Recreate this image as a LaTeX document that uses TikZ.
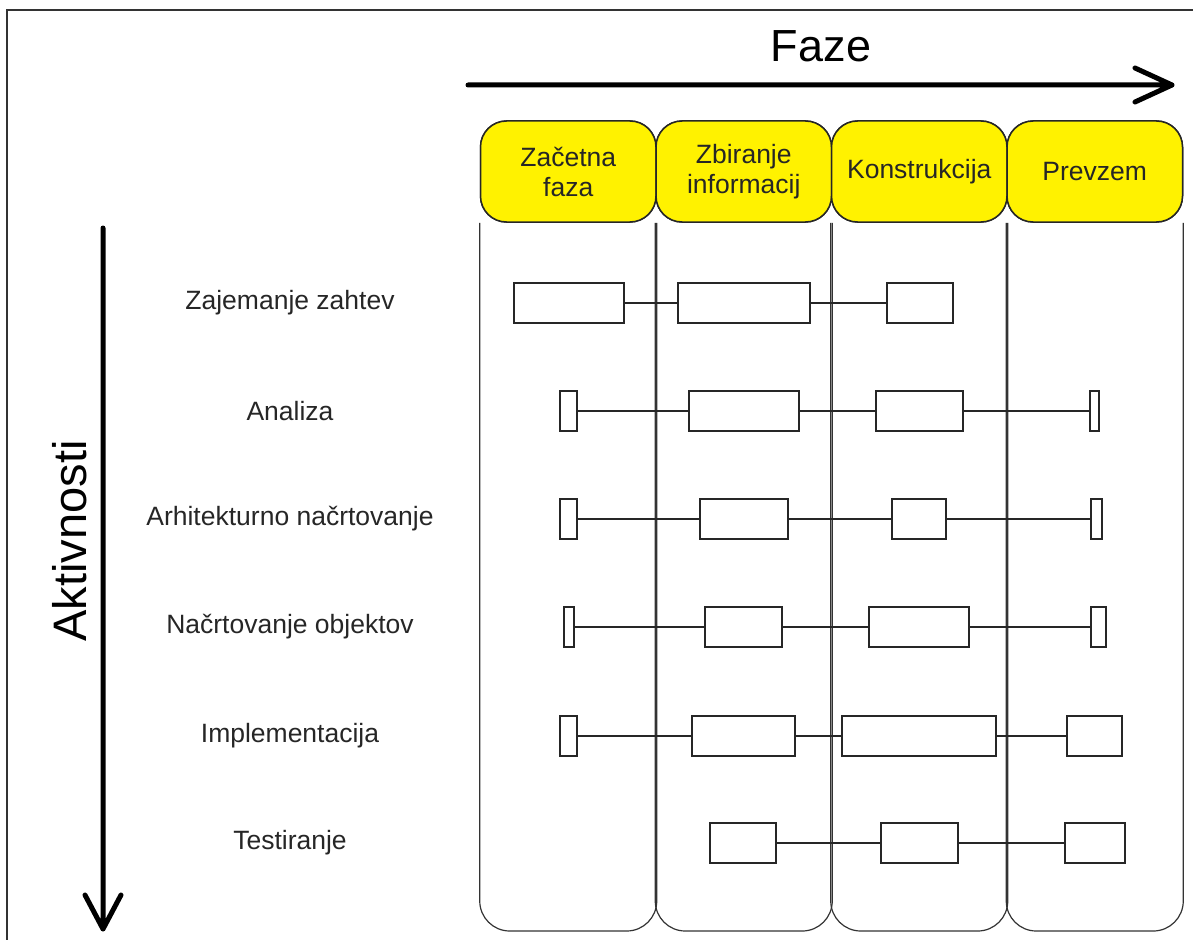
\documentclass[tikz,border=0pt]{standalone}
\usepackage{fontspec}
\setmainfont{Liberation Sans}
\usetikzlibrary{arrows.meta}
% activity box from x=#2 to x=#3, centred on y=#4
\newcommand\actbox[4]{\node[bar, minimum width={#3pt-#2pt}] (#1) at ({(#2+#3)/2},#4) {};}
\begin{document}
\begin{tikzpicture}[x=1pt,y=-1pt,
  lbl/.style={font=\fontsize{26.5}{30}\selectfont, text=black!85},
  phase/.style={draw=black!85, line width=1.5pt, fill=yellow, rounded corners=26pt,
    minimum width=175.5pt, minimum height=101pt, align=center, inner sep=0pt, lbl},
  colline/.style={draw=black!80, line width=1.2pt, rounded corners=30pt},
  bar/.style={draw=black!85, line width=1.8pt, fill=white, inner sep=0pt, minimum height=40pt},
  link/.style={draw=black!85, line width=1.8pt},
  axis/.style={line width=5pt, line cap=round, line join=round},
]
\useasboundingbox (0,0) rectangle (1193,939);
\draw[line width=2pt, black!80] (7,10) rectangle (1220,980);

% phase headers
\node[phase] (h1) at (568.25,171.5) {Začetna\\faza};
\node[phase] (h2) at (743.75,171.5) {Zbiranje\\informacij};
\node[phase] (h3) at (919.25,171.5) {Konstrukcija};
\node[phase] (h4) at (1094.75,171.5) {Prevzem};
\coordinate (bot) at (0,931);

% phase columns
\foreach \h in {h1,h2,h3,h4}
  \draw[colline] (\h.south west) -- (\h.south west |- bot) -- (\h.south east |- bot) -- (\h.south east);
% redraw headers over the column tops
\node[phase] at (h1) {Začetna\\faza};
\node[phase] at (h2) {Zbiranje\\informacij};
\node[phase] at (h3) {Konstrukcija};
\node[phase] at (h4) {Prevzem};

% axes with open chevron heads
\node[font=\fontsize{45}{50}\selectfont, anchor=base] (faze) at (821,62) {Faze};
\node[font=\fontsize{47}{52}\selectfont, rotate=90] (akt) at (70,541) {Aktivnosti};
\coordinate (ax0) at (468,85);
\coordinate (ax1) at (1172,85);
\coordinate (ay0) at (103,228);
\coordinate (ay1) at (103,929);
\draw[axis] (ax0) -- (ax1) ++(-37,-17) -- (ax1) -- ++(-37,17);
\draw[axis] (ay0) -- (ay1) ++(-18,-34) -- (ay1) -- ++(18,-34);

% activity labels
\node[lbl] (l1) at (290,303) {Zajemanje zahtev};
\node[lbl] (l2) at (290,411) {Analiza};
\node[lbl] (l3) at (290,519) {Arhitekturno načrtovanje};
\node[lbl] (l4) at (290,627) {Načrtovanje objektov};
\node[lbl] (l5) at (290,736) {Implementacija};
\node[lbl] (l6) at (290,843) {Testiranje};

% activity boxes
\actbox{r1a}{514}{624}{303}
\actbox{r1b}{678}{810}{303}
\actbox{r1c}{887}{953}{303}

\actbox{r2a}{560}{577}{411}
\actbox{r2b}{689}{799}{411}
\actbox{r2c}{876}{963}{411}
\actbox{r2d}{1090}{1099}{411}

\actbox{r3a}{560}{577}{519}
\actbox{r3b}{700}{788}{519}
\actbox{r3c}{892}{946}{519}
\actbox{r3d}{1091}{1102}{519}

\actbox{r4a}{564}{574}{627}
\actbox{r4b}{705}{782}{627}
\actbox{r4c}{869}{969}{627}
\actbox{r4d}{1091}{1106}{627}

\actbox{r5a}{560}{577}{736}
\actbox{r5b}{692}{795}{736}
\actbox{r5c}{842}{996}{736}
\actbox{r5d}{1067}{1122}{736}

\actbox{r6a}{710}{776}{843}
\actbox{r6b}{881}{958}{843}
\actbox{r6c}{1065}{1125}{843}

% links between boxes
\draw[link] (r1a) -- (r1b) (r1b) -- (r1c);
\draw[link] (r2a) -- (r2b) (r2b) -- (r2c) (r2c) -- (r2d);
\draw[link] (r3a) -- (r3b) (r3b) -- (r3c) (r3c) -- (r3d);
\draw[link] (r4a) -- (r4b) (r4b) -- (r4c) (r4c) -- (r4d);
\draw[link] (r5a) -- (r5b) (r5b) -- (r5c) (r5c) -- (r5d);
\draw[link] (r6a) -- (r6b) (r6b) -- (r6c);
\end{tikzpicture}
\end{document}
